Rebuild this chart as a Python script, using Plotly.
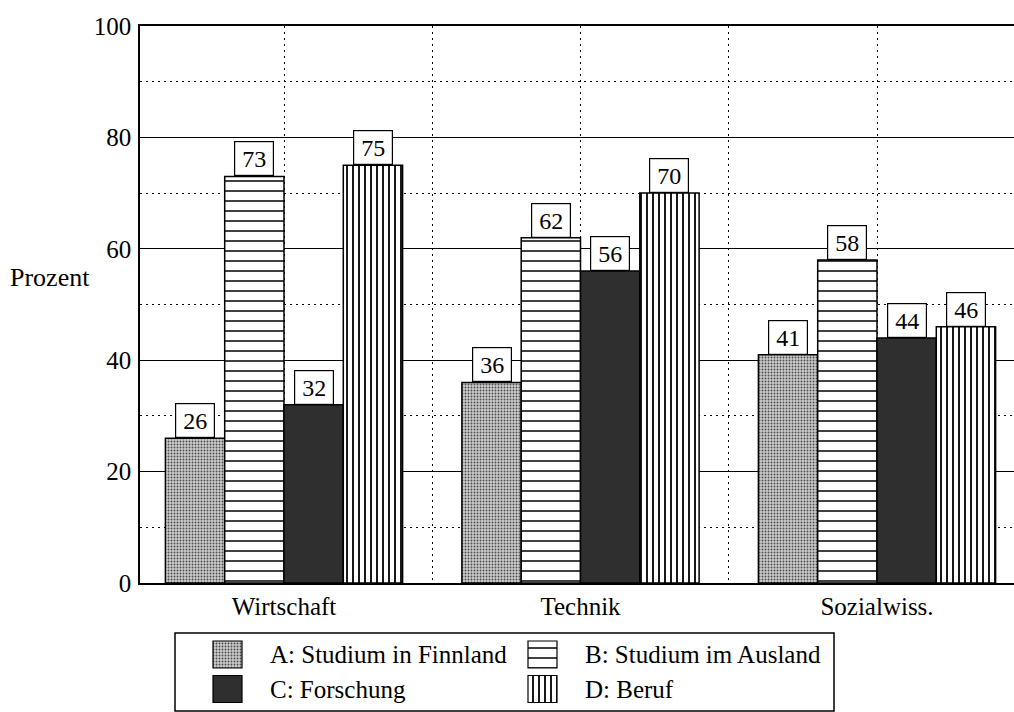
import plotly.graph_objects as go

# --- data -------------------------------------------------------------
categories = ["Wirtschaft", "Technik", "Sozialwiss."]
series_names = [
    "A: Studium in Finnland",
    "B: Studium im Ausland",
    "C: Forschung",
    "D: Beruf",
]
values_a = [26, 36, 41]
values_b = [73, 62, 58]
values_c = [32, 56, 44]
values_d = [75, 70, 46]
y_ticks = [0, 20, 40, 60, 80, 100]

series_values = [values_a, values_b, values_c, values_d]

# --- styles -----------------------------------------------------------
FONT = "Liberation Serif, Times New Roman, serif"
W, H = 1014, 712
M_L, M_T = 140, 26
PLOT_BOTTOM_PX = 583          # pixel row of the x axis
PAPER_H = H - M_T

def py(px):
    """pixel row -> paper fraction (paper spans from M_T down to H)."""
    return (H - px) / PAPER_H

def px_x(px):
    return (px - M_L) / (W - M_L)

styles = [
    dict(color="#c4c4c4", pattern=dict(shape=".", fgcolor="#4a4a4a", bgcolor="#cccccc",
                                       size=3, solidity=0.3, fillmode="replace")),
    dict(color="white", pattern=dict(shape="-", fgcolor="black", bgcolor="white",
                                     size=10, solidity=0.15, fillmode="replace")),
    dict(color="#2f2f2f"),
    dict(color="white", pattern=dict(shape="|", fgcolor="black", bgcolor="white",
                                     size=6, solidity=0.3, fillmode="replace")),
]

x_idx = list(range(len(categories)))
bargap = 0.2
n_series = len(series_values)
bar_w = (1 - bargap) / n_series

fig = go.Figure()

# main grouped bars
for j, (name, vals, st) in enumerate(zip(series_names, series_values, styles)):
    fig.add_trace(go.Bar(
        x=x_idx, y=vals, name=name, showlegend=False,
        marker=dict(color=st["color"], pattern=st.get("pattern"),
                    line=dict(color="black", width=1.5)),
        xaxis="x", yaxis="y",
    ))

# value boxes above each bar
annotations = []
for j, vals in enumerate(series_values):
    off = (j - (n_series - 1) / 2) * bar_w
    for i, v in enumerate(vals):
        annotations.append(dict(
            x=i + off, y=v, xref="x", yref="y", text=str(v), showarrow=False,
            xanchor="center", yanchor="bottom", width=34, height=29,
            bgcolor="white", bordercolor="black", borderwidth=1.2, borderpad=2,
            font=dict(family=FONT, size=24, color="black"),
        ))

# legend built on its own small axes: two columns, two rows
leg_pos = [(0, 0), (1, 0), (0, 1), (1, 1)]
col0_px, col_step_px = 227.5, 315.0
row0_px, row_step_px = 654.5, 34.5
patch_w_px, patch_h_px = 29, 27
x2_range = [(M_L - col0_px) / col_step_px, (W - col0_px) / col_step_px]
leg_top_px, leg_bot_px = 633, 712
y2_range = [(leg_bot_px - row0_px) / row_step_px, (leg_top_px - row0_px) / row_step_px]
ph = patch_h_px / row_step_px
pw = patch_w_px / col_step_px
for (c, r), name, st in zip(leg_pos, series_names, styles):
    fig.add_trace(go.Bar(
        x=[c], y=[ph], base=[r - ph / 2], width=[pw], offset=-pw / 2,
        showlegend=False, hoverinfo="skip",
        marker=dict(color=st["color"], pattern=st.get("pattern"),
                    line=dict(color="black", width=1.2)),
        xaxis="x2", yaxis="y2",
    ))
    annotations.append(dict(
        x=c + 0.128, y=r, xref="x2", yref="y2", text=name, showarrow=False,
        xanchor="left", yanchor="middle",
        font=dict(family=FONT, size=25, color="black"),
    ))

# y axis title, horizontal
annotations.append(dict(
    x=px_x(8), y=py(277), xref="paper", yref="paper", text="Prozent",
    showarrow=False, xanchor="left", yanchor="middle",
    font=dict(family=FONT, size=26, color="black"),
))

dot = "1.5px,4.5px"
fig.update_layout(
    template="none",
    width=W, height=H,
    margin=dict(l=M_L, r=0, t=M_T, b=0, pad=0, autoexpand=False),
    plot_bgcolor="white", paper_bgcolor="white",
    barmode="group", bargap=bargap, bargroupgap=0,
    font=dict(family=FONT, color="black"),
    xaxis=dict(
        domain=[0, 1], anchor="y", automargin=False,
        range=[(M_L - 284) / 296.5, (W - 284) / 296.5],
        tickmode="array", tickvals=x_idx, ticktext=categories,
        tickfont=dict(family=FONT, size=25), ticks="", ticklabelstandoff=0,
        showgrid=True, gridcolor="black", gridwidth=1.3, griddash=dot,
        minor=dict(tickmode="array", tickvals=[0.5, 1.5], showgrid=True,
                   gridcolor="black", gridwidth=1.3, griddash=dot, ticks=""),
        showline=True, linecolor="black", linewidth=1.5, mirror=True,
        zeroline=False, fixedrange=True,
    ),
    yaxis=dict(
        domain=[py(PLOT_BOTTOM_PX), 1], anchor="x", automargin=False,
        range=[0, 100], tickmode="array", tickvals=y_ticks,
        tickfont=dict(family=FONT, size=25), ticks="", ticklabelstandoff=2,
        showgrid=True, gridcolor="black", gridwidth=1.3,
        minor=dict(tickmode="array", tickvals=[10, 30, 50, 70, 90], showgrid=True,
                   gridcolor="black", gridwidth=1.3, griddash=dot, ticks=""),
        showline=True, linecolor="black", linewidth=1.5, mirror=True,
        zeroline=False,
    ),
    xaxis2=dict(domain=[0, 1], anchor="y2", range=x2_range, visible=False,
                automargin=False),
    yaxis2=dict(domain=[0, py(leg_top_px)], anchor="x2", range=y2_range,
                visible=False, automargin=False),
    annotations=annotations,
    shapes=[dict(
        type="rect", xref="paper", yref="paper",
        x0=px_x(175), x1=px_x(834), y0=py(711), y1=py(leg_top_px),
        line=dict(color="black", width=1.5), fillcolor="rgba(0,0,0,0)",
    )],
)

fig.write_html("out.html")
